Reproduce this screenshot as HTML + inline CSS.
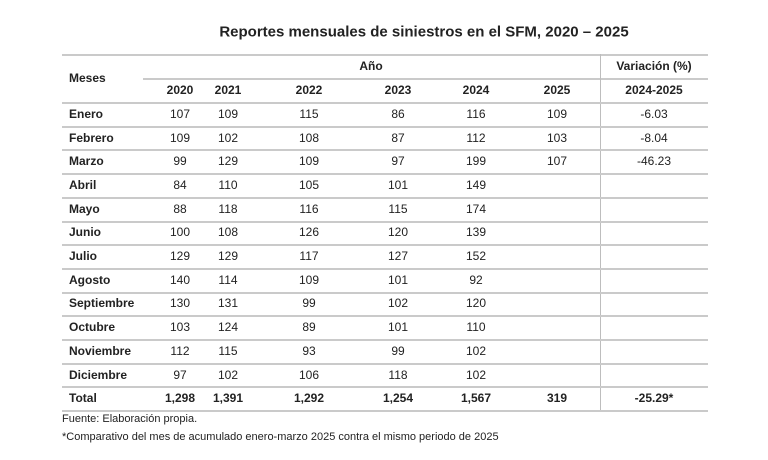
<!DOCTYPE html>
<html><head><meta charset="utf-8"><style>
body{margin:0;width:768px;height:460px;background:#fff;font-family:"Liberation Sans",sans-serif;color:#222;position:relative;overflow:hidden}
.t{position:absolute;white-space:nowrap;font-size:12px;transform:translate(-50%,-50%)}
.l{position:absolute;white-space:nowrap;font-size:12px;transform:translateY(-50%)}
.b{font-weight:bold}
.h{position:absolute;height:2px;background:#cacaca}
.v{position:absolute;width:1px;background:#bdbdbd}
</style></head><body>
<div class="t b" style="left:424px;top:32px;font-size:15px">Reportes mensuales de siniestros en el SFM, 2020 – 2025</div>
<div class="h" style="left:62px;width:646px;top:54px"></div>
<div class="h" style="left:143px;width:457px;top:78px"></div>
<div class="h" style="left:600px;width:108px;top:78px"></div>
<div class="v" style="left:600px;top:54px;height:357px"></div>
<div class="l b" style="left:69px;top:78px">Meses</div>
<div class="t b" style="left:371px;top:66px">Año</div>
<div class="t b" style="left:654px;top:66px">Variación (%)</div>
<div id="g"></div>
<div class="l" style="left:62px;top:419px;font-size:11px">Fuente: Elaboración propia.</div>
<div class="l" style="left:62px;top:437px;font-size:11px">*Comparativo del mes de acumulado enero-marzo 2025 contra el mismo periodo de 2025</div>
<script>
(function(){
var cols=[180,228,309,398,476,557,654];
var hdr=["2020","2021","2022","2023","2024","2025","2024-2025"];
var rows=[["Enero",107,109,115,86,116,109,"-6.03"],["Febrero",109,102,108,87,112,103,"-8.04"],["Marzo",99,129,109,97,199,107,"-46.23"],["Abril",84,110,105,101,149,"",""],["Mayo",88,118,116,115,174,"",""],["Junio",100,108,126,120,139,"",""],["Julio",129,129,117,127,152,"",""],["Agosto",140,114,109,101,92,"",""],["Septiembre",130,131,99,102,120,"",""],["Octubre",103,124,89,101,110,"",""],["Noviembre",112,115,93,99,102,"",""],["Diciembre",97,102,106,118,102,"",""],["Total","1,298","1,391","1,292","1,254","1,567","319","-25.29*"]];
var h="";
hdr.forEach(function(x,i){h+='<div class="t b" style="left:'+cols[i]+'px;top:90px">'+x+'</div>';});
var T=102,step=23.7;
h+='<div class="h" style="left:62px;width:646px;top:'+T+'px"></div>';
rows.forEach(function(r,k){var y=T+step*k+step/2;var bold=k==12?" b":"";
h+='<div class="l b" style="left:69px;top:'+y+'px">'+r[0]+'</div>';
for(var i=1;i<8;i++)h+='<div class="t'+bold+'" style="left:'+cols[i-1]+'px;top:'+y+'px">'+r[i]+'</div>';
h+='<div class="h" style="left:62px;width:646px;top:'+Math.round(T+step*(k+1))+'px"></div>';});
document.getElementById("g").innerHTML=h;
})();
</script>
</body></html>
